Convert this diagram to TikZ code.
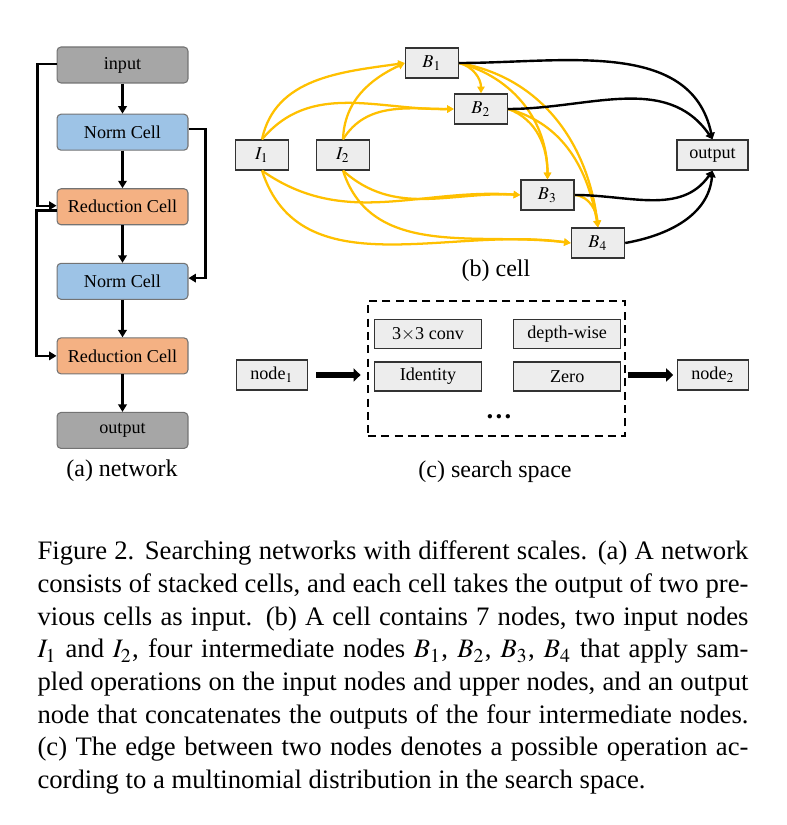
\documentclass[tikz,border=0pt]{standalone}
\usepackage{mathptmx}
\usepackage[no-math]{fontspec}
\setmainfont{Liberation Serif}
\usetikzlibrary{arrows.meta, positioning}
\definecolor{cellgray}{HTML}{A6A6A6}
\definecolor{cellblue}{HTML}{9DC3E6}
\definecolor{cellorange}{HTML}{F4B183}
\definecolor{boxgray}{HTML}{EDEDED}
\definecolor{edgegold}{HTML}{FFC000}

\begin{document}
\begin{tikzpicture}[x=0.375pt, y=0.375pt,
  cell/.style={draw=black!55, rectangle, rounded corners=1.5pt, minimum width=49.1pt, minimum height=13.5pt, inner sep=0pt, font=\fontsize{6.8}{8}\selectfont},
  normcell/.style={cell, fill=cellblue},
  redcell/.style={cell, fill=cellorange},
  iocell/.style={cell, fill=cellgray},
  opnode/.style={draw=black!80, fill=boxgray, rectangle, minimum width=19.9pt, minimum height=11.25pt, inner sep=0pt, line width=0.5pt, font=\fontsize{6.8}{8}\selectfont},
  opbox/.style={opnode, minimum width=40.1pt, minimum height=10.9pt},
  sublabel/.style={font=\fontsize{9}{10}\selectfont},
  net/.style={-{Triangle[length=2.8pt,width=3.2pt]}, line width=0.8pt},
  gold/.style={-{Triangle[length=2.5pt,width=2.7pt]}, line width=0.85pt, draw=edgegold},
  dark/.style={-{Triangle[length=2.5pt,width=2.7pt]}, line width=0.9pt},
  fat/.style={-{Triangle[length=2.6pt,width=4.9pt]}, line width=2.2pt}]

  \useasboundingbox (0,0) rectangle (786,825);

  % (a) network: stacked cells
  \node [iocell] (input) at (122.5,760) {input};
  \node [normcell, below=11.3pt of input] (norm1) {Norm Cell};
  \node [redcell, below=14.06pt of norm1] (red1) {Reduction Cell};
  \node [normcell, below=14.06pt of red1] (norm2) {Norm Cell};
  \node [redcell, below=14.06pt of norm2] (red2) {Reduction Cell};
  \node [iocell, below=14.06pt of red2] (out) {output};
  \node [sublabel] (labela) at (122,354) {(a) network};

  \foreach \a/\b in {input/norm1, norm1/red1, red1/norm2, norm2/red2, red2/out}
    \draw [net] (\a) -- (\b);

  % skip connections from two cells back
  \draw [net] ([yshift=0.4pt]input.west) -- ++(-19,0) |- ([yshift=0.4pt]red1.west);
  \draw [net] ([yshift=-1.4pt]red1.west) -- ++(-20,0) |- (red2.west);
  \draw [net] ([yshift=1.2pt]norm1.east) -- ++(17,0) |- ([yshift=1.2pt]norm2.east);

  % (b) cell: inputs, intermediate nodes, output
  \node [opnode] (I1) at (262,670) {$I_1$};
  \node [opnode] (I2) at (343,670) {$I_2$};
  \node [opnode] (B1) at (432,762) {$B_1$};
  \node [opnode] (B2) at (481,716) {$B_2$};
  \node [opnode] (B3) at (547.5,630) {$B_3$};
  \node [opnode] (B4) at (598,582) {$B_4$};
  \node [opnode, minimum width=26.6pt] (cout) at (712.5,670) {output};
  \node [sublabel] (labelb) at (496,554) {(b) cell};

  % sampled operations (upper edges)
  \draw [gold] (I1.north) to[out=78, in=188] (B1.west);
  \draw [gold] (I2.north) to[out=88, in=205] (B1.west);
  \draw [gold] (I1.north) to[out=50, in=181] (B2.west);
  \draw [gold] (I2.north) to[out=58, in=180] (B2.west);
  \draw [gold] (I1.south) to[out=-35, in=176] (B3.west);
  \draw [gold] (I2.south) to[out=-42, in=177] (B3.west);
  \draw [gold] (I1.south) to[out=-72, in=172] (B4.west);
  \draw [gold] (I2.south) to[out=-72, in=173] (B4.west);
  \draw [gold] (B1.east) to[out=-15, in=90] (B2.north);
  \draw [gold] (B1.east) to[out=-15, in=90] (B3.north);
  \draw [gold] (B1.east) to[out=-10, in=97] (B4.north);
  \draw [gold] (B2.east) to[out=-20, in=90] (B3.north);
  \draw [gold] (B2.east) to[out=-15, in=100] (B4.north);
  \draw [gold] (B3.east) to[out=-5, in=95] (B4.north);

  % concatenation into the output
  \draw [dark] (B1.east) to[out=0, in=102] (cout.north);
  \draw [dark] (B2.east) to[out=0, in=125] (cout.north);
  \draw [dark] (B3.east) to[out=0, in=-125] (cout.south);
  \draw [dark] (B4.east) to[out=10, in=-95] (cout.south);

  % (c) search space
  \node [opnode, minimum width=26.6pt] (node1) at (272,450) {node$_1$};
  \node [draw, dashed, dash pattern=on 3pt off 2pt, line width=0.75pt, minimum width=96.4pt, minimum height=50.6pt, inner sep=0pt] (space) at (496.5,456.5) {};
  \node [opbox] (conv) at (428,491) {3$\times$3 conv};
  \node [opbox, below=4.5pt of conv] (ident) {Identity};
  \node [opbox, right=11.6pt of conv] (dwise) {depth-wise};
  \node [opbox, below=4.5pt of dwise] (zero) {Zero};
  \node [anchor=base, font=\fontsize{10}{12}\selectfont\bfseries] (dots) at (499,406) {\dots};
  \node [opnode, minimum width=26.6pt] (node2) at (713,450) {node$_2$};
  \node [sublabel] (labelc) at (495,353) {(c) search space};

  \draw [fat, shorten <=3pt, shorten >=2.4pt] (node1) -- (space.west |- node1);
  \draw [fat, shorten <=0.6pt, shorten >=1.4pt] (space.east |- node2) -- (node2);

  % caption
  \node [anchor=base west, text width=266.6pt, align=justify, inner sep=0pt, font=\fontsize{10}{12.25}\selectfont] (caption) at (37,265) {Figure 2. Searching networks with different scales. (a) A network\linebreak
    consists of stacked cells, and each cell takes the output of two pre-\linebreak
    vious cells as input. (b) A cell contains 7 nodes, two input nodes\linebreak
    $I_1$ and $I_2$, four intermediate nodes $B_1$, $B_2$, $B_3$, $B_4$ that apply sam-\linebreak
    pled operations on the input nodes and upper nodes, and an output\linebreak
    node that concatenates the outputs of the four intermediate nodes.\linebreak
    (c) The edge between two nodes denotes a possible operation ac-\linebreak
    cording to a multinomial distribution in the search space.};
\end{tikzpicture}
\end{document}
